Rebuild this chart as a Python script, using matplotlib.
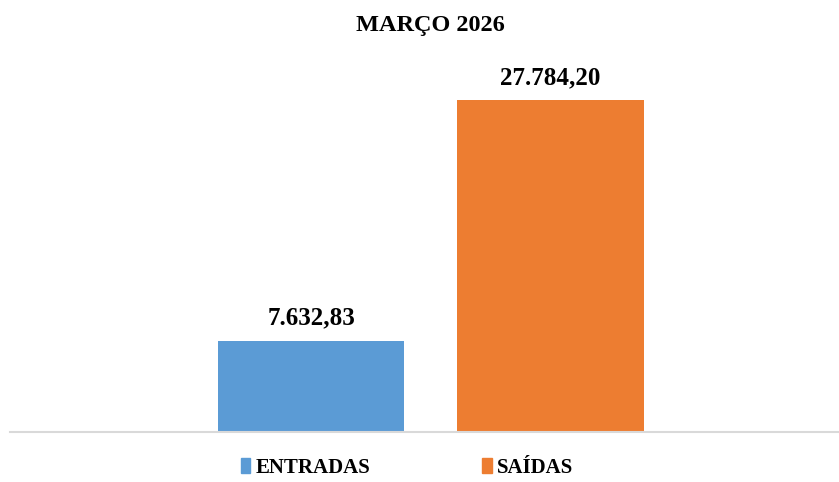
import matplotlib
matplotlib.use("Agg")
import matplotlib.pyplot as plt
from matplotlib.patches import Patch

titulo = 'MARÇO 2026'
series = ['ENTRADAS', 'SAÍDAS']
valores = [7632.83, 27784.20]
cores = ['#5B9BD5', '#ED7D31']


def fmt_br(v):
    # 27784.2 -> 27.784,20
    s = f'{v:,.2f}'
    return s.replace(',', 'X').replace('.', ',').replace('X', '.')


plt.rcParams['font.family'] = ['Liberation Serif', 'DejaVu Serif']

fig = plt.figure(figsize=(8.39, 4.82), dpi=100)
# axes placed in pixels: left 10, baseline at y=432 from top
W, H = 839, 482
ax_bottom = (H - 432) / H
ax_h = (30000 / 27784.2 * 332) / H
ax = fig.add_axes([10 / W, ax_bottom, 829 / W, ax_h])

pos = [0, 1]
bars = ax.bar(pos, valores, width=0.78, color=cores)
ax.set_xlim(-1.257, 2.204)
ax.set_ylim(0, 30000)

for b, v in zip(bars, valores):
    ax.annotate(fmt_br(v), (b.get_x() + b.get_width() / 2, v),
                xytext=(0, 8), textcoords='offset points',
                ha='center', va='bottom', fontsize=18, fontweight='bold')

for s in ['top', 'left', 'right']:
    ax.spines[s].set_visible(False)
ax.spines['bottom'].set_color('#D9D9D9')
ax.spines['bottom'].set_linewidth(1.5)
ax.set_xticks([])
ax.set_yticks([])

fig.text(430 / W, 1 - 25 / H, titulo, ha='center', va='center',
         fontsize=17.5, fontweight='bold')

handles = [Patch(color=c, label=l) for c, l in zip(cores, series)]
fig.legend(handles=handles, loc='center', bbox_to_anchor=(0.485, 1 - 468 / H),
           ncol=2, frameon=False, handlelength=0.45, handleheight=0.75,
           handletextpad=0.25, columnspacing=5.4,
           prop={'weight': 'bold', 'size': 15})

fig.savefig('out.png', dpi=100)
